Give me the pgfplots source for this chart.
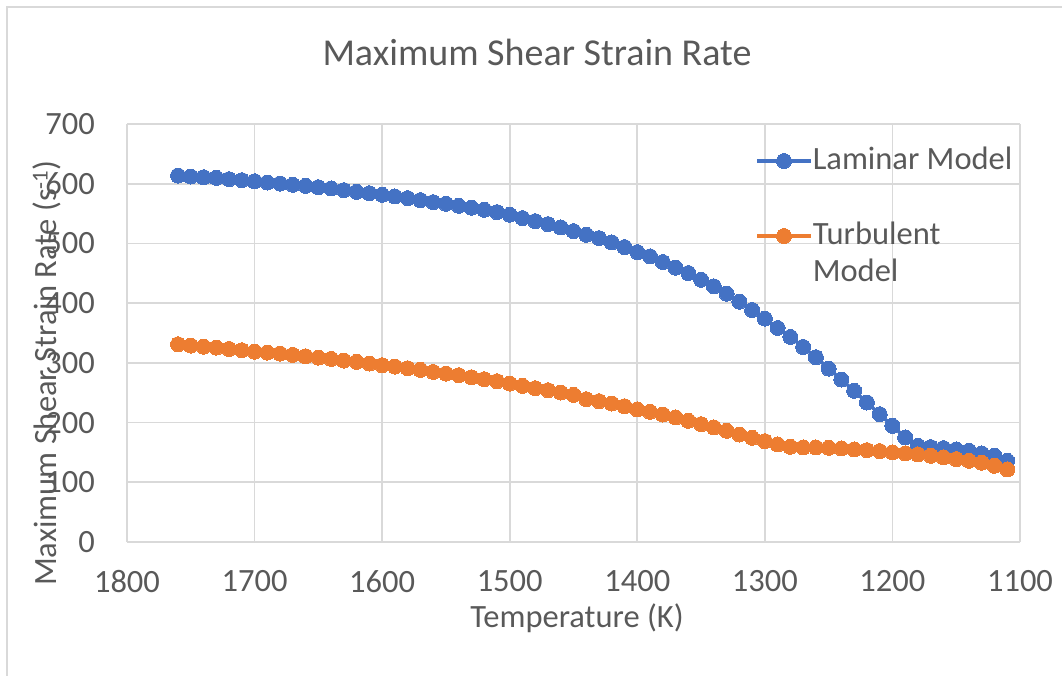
\documentclass[border=0pt]{standalone}
\usepackage{pgfplots}
\pgfplotsset{compat=1.18}
\usepackage{fontspec}
\setmainfont{Carlito}
\definecolor{exblue}{HTML}{4472C4}
\definecolor{exorange}{HTML}{ED7D31}
\definecolor{extext}{HTML}{595959}
\definecolor{exgrid}{HTML}{D9D9D9}
\newcommand{\tickfont}{\fontsize{32.5}{39}\selectfont}
\begin{document}
\begin{tikzpicture}
\useasboundingbox (-127pt,-134pt) rectangle (935pt,542pt);
\begin{scope}
\clip (-127pt,-134pt) rectangle (935pt,542pt);
\draw[exgrid, line width=2pt] (-120pt,535pt) rectangle (960pt,-160pt);
\end{scope}
\begin{axis}[
  at={(0pt,0pt)}, anchor=south west,
  scale only axis, width=893pt, height=418pt,
  x dir=reverse,
  xmin=1100, xmax=1800, ymin=0, ymax=700,
  xtick={1100,1200,...,1800}, ytick={0,100,...,700},
  grid=major,
  major grid style={exgrid, line width=1.6pt},
  axis line style={draw=none},
  major tick length=0pt,
  /pgf/number format/1000 sep={},
  /pgf/number format/assume math mode=true,
  ticklabel style={font=\tickfont, text=extext, inner sep=0pt},
  xticklabel style={anchor=north, yshift=-28pt},
  yticklabel style={anchor=east, xshift=-32pt},
  legend style={at={(0.700,0.955)}, anchor=north west, draw=none, fill=none,
    font=\tickfont, text=extext, row sep=5.5pt,
    nodes={inner sep=0pt, text height=24pt, text depth=8pt}},
  legend cell align=left,
  legend image code/.code={\draw[mark repeat=2,mark phase=2] plot coordinates {(0pt,0pt) (27pt,0pt) (54pt,0pt)};},
  every axis plot/.append style={line width=3.5pt, mark=*, mark size=7.5pt},
]
\addplot[color=exblue, mark options={fill=exblue, draw=exblue, line width=0pt}] coordinates {
(1760,613.7) (1750,612) (1740,610.9) (1730,609.8) (1720,607.6) (1710,605.9) (1700,604.2)
(1690,602) (1680,600.3) (1670,598.1) (1660,596.4) (1650,594.2) (1640,592) (1630,589.2)
(1620,586.4) (1610,584.1) (1600,581.4) (1590,578.6) (1580,575.8) (1570,572.5) (1560,569.1)
(1550,566.4) (1540,563) (1530,559.7) (1520,556.3) (1510,552.4) (1500,548) (1490,542.4)
(1480,537.3) (1470,532.3) (1460,526.8) (1450,520.6) (1440,514.5) (1430,508.9) (1420,501.7)
(1410,493.9) (1400,485.5) (1390,478.3) (1380,468.8) (1370,459.3) (1360,450.4) (1350,439.2)
(1340,428.1) (1330,415.8) (1320,402.5) (1310,388.5) (1300,374) (1290,358.4) (1280,343.4)
(1270,326.6) (1260,309.4) (1250,290.4) (1240,272) (1230,253.1) (1220,233.6) (1210,214)
(1200,194.5) (1190,175) (1180,161.1) (1170,158.9) (1160,157.2) (1150,155) (1140,152.7)
(1130,148.3) (1120,144.4) (1110,136)
};
\addlegendentry{Laminar Model}
\addlegendimage{empty legend}
\addlegendentry{}
\addplot[color=exorange, mark options={fill=exorange, draw=exorange, line width=0pt}] coordinates {
(1760,331.1) (1750,328.9) (1740,327.2) (1730,325.5) (1720,323.3) (1710,321.1) (1700,318.8)
(1690,317.2) (1680,315.5) (1670,313.3) (1660,311) (1650,308.8) (1640,306.6) (1630,303.8)
(1620,301.6) (1610,298.8) (1600,296) (1590,293.8) (1580,291) (1570,288.2) (1560,284.8)
(1550,282) (1540,279.3) (1530,275.9) (1520,272.6) (1510,269.2) (1500,265.3) (1490,261.4)
(1480,257.5) (1470,254.2) (1460,250.3) (1450,246.4) (1440,239.1) (1430,235.8) (1420,231.9)
(1410,227.4) (1400,221.9) (1390,217.9) (1380,213.5) (1370,208.5) (1360,202.9) (1350,197.3)
(1340,191.8) (1330,186.2) (1320,180) (1310,174.5) (1300,168.9) (1290,163.3) (1280,159.4)
(1270,158.3) (1260,158.3) (1250,157.7) (1240,156.6) (1230,155) (1220,153.8) (1210,152.2)
(1200,150) (1190,148.3) (1180,146.6) (1170,144.4) (1160,141.6) (1150,138.8) (1140,136)
(1130,132.7) (1120,127.6) (1110,121.5)
};
\addlegendentry{Turbulent}
\addlegendimage{empty legend}
\addlegendentry{Model}
\end{axis}
\node[font=\fontsize{38}{45}\selectfont, text=extext] at (410pt,490pt) {Maximum Shear Strain Rate};
\node[font=\tickfont, text=extext] at (450pt,-76pt) {Temperature (K)};
\node[font=\tickfont, text=extext, rotate=90] at (-80pt,169pt) {Maximum Shear Strain Rate (s\textsuperscript{-1})};
\end{tikzpicture}
\end{document}
